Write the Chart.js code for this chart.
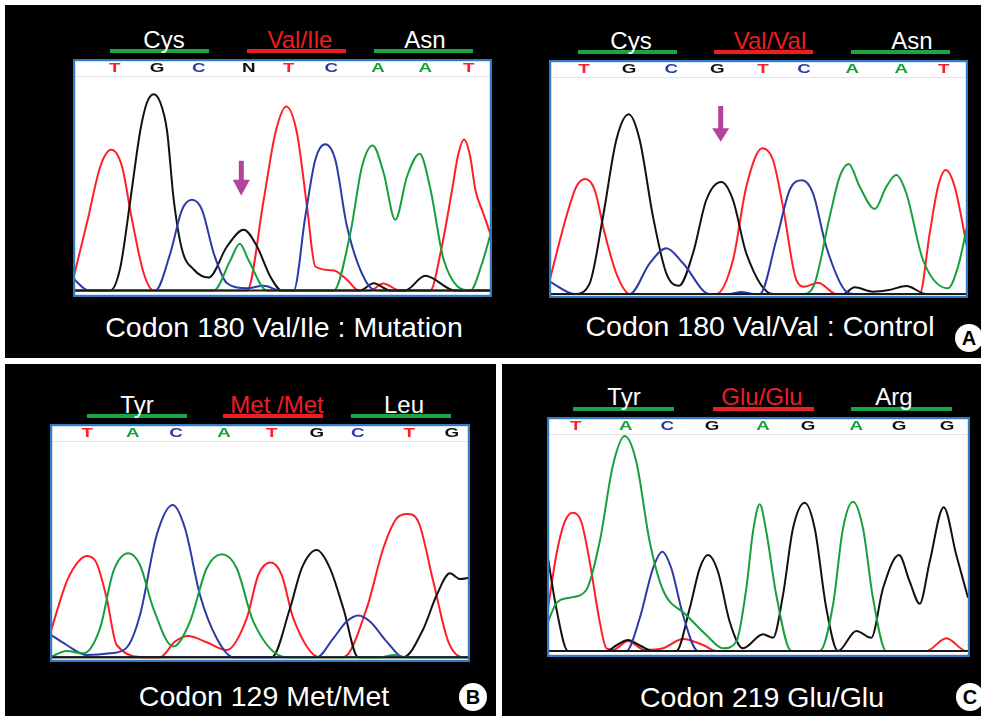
<!DOCTYPE html>
<html>
<head>
<meta charset="utf-8">
<script src="https://cdn.jsdelivr.net/npm/chart.js@4/dist/chart.umd.min.js"></script>
<style>
  body { margin: 0; width: 981px; height: 716px; overflow: hidden; position: relative; background: #fff;
         font-family: "Liberation Sans", Arial, sans-serif; }
  .panel { position: absolute; background: #000; }
  canvas { position: absolute; }
  .aa { position: absolute; font-size: 24px; line-height: 24px; color: #fff; transform: translateX(-50%); white-space: nowrap; }
  .aa.red { color: #ee1d23; }
  .bar { position: absolute; height: 4px; background: #19a447; }
  .bar.red { background: #ee1d23; }
  .cap { position: absolute; font-size: 28.5px; line-height: 28px; color: #fff; transform: translateX(-50%); white-space: nowrap; }
  .badge { position: absolute; width: 28px; height: 28px; border-radius: 50%; background: #fff; color: #000;
           font-weight: bold; font-size: 20px; line-height: 28px; text-align: center; }
</style>
</head>
<body>
<div class="panel" style="left:5px;top:5px;width:976px;height:353px"></div>
<div class="panel" style="left:5px;top:364px;width:491px;height:352px"></div>
<div class="panel" style="left:502px;top:364px;width:479px;height:352px"></div>

<div class="bar" style="left:110px;top:49px;width:99px"></div>
<div class="bar red" style="left:247px;top:49px;width:99px"></div>
<div class="bar" style="left:374px;top:49px;width:99px"></div>
<div class="aa" id="mut0" style="left:164px;top:28px"></div>
<div class="aa red" id="mut1" style="left:300px;top:28px"></div>
<div class="aa" id="mut2" style="left:425px;top:28px"></div>

<div class="bar" style="left:578px;top:50px;width:99px"></div>
<div class="bar red" style="left:714px;top:50px;width:99px"></div>
<div class="bar" style="left:851px;top:50px;width:99px"></div>
<div class="aa" id="ctl0" style="left:631px;top:29px"></div>
<div class="aa red" id="ctl1" style="left:770px;top:29px"></div>
<div class="aa" id="ctl2" style="left:912px;top:29px"></div>

<div class="bar" style="left:87px;top:414px;width:100px"></div>
<div class="bar red" style="left:223px;top:414px;width:100px"></div>
<div class="bar" style="left:351px;top:414px;width:100px"></div>
<div class="aa" id="met0" style="left:137px;top:393px"></div>
<div class="aa red" id="met1" style="left:277px;top:393px"></div>
<div class="aa" id="met2" style="left:404px;top:393px"></div>

<div class="bar" style="left:573px;top:407px;width:101px"></div>
<div class="bar red" style="left:713px;top:407px;width:101px"></div>
<div class="bar" style="left:851px;top:407px;width:101px"></div>
<div class="aa" id="glu0" style="left:624px;top:385px"></div>
<div class="aa red" id="glu1" style="left:762px;top:385px"></div>
<div class="aa" id="glu2" style="left:894px;top:385px"></div>

<canvas id="mutChart" width="419" height="238" style="left:73px;top:59px"></canvas>
<canvas id="ctlChart" width="419" height="238" style="left:549px;top:60px"></canvas>
<canvas id="metChart" width="420" height="238" style="left:50px;top:424px"></canvas>
<canvas id="gluChart" width="423" height="240" style="left:547px;top:417px"></canvas>

<div class="cap" id="capMut" style="left:284px;top:313px"></div>
<div class="cap" id="capCtl" style="left:760px;top:312px"></div>
<div class="cap" id="capMet" style="left:264px;top:682px"></div>
<div class="cap" id="capGlu" style="left:762px;top:683px"></div>
<div class="badge" style="left:955px;top:324px">A</div>
<div class="badge" style="left:459px;top:683px">B</div>
<div class="badge" style="left:956px;top:683px">C</div>

<script>
// codon labels and captions
const mutCodons = ['Cys', 'Val/Ile', 'Asn'];
const ctlCodons = ['Cys', 'Val/Val', 'Asn'];
const metCodons = ['Tyr', 'Met /Met', 'Leu'];
const gluCodons = ['Tyr', 'Glu/Glu', 'Arg'];
const captions = ['Codon 180 Val/Ile : Mutation', 'Codon 180 Val/Val : Control', 'Codon 129 Met/Met', 'Codon 219 Glu/Glu'];

// base calls and their scan positions
const mutBases = ['T', 'G', 'C', 'N', 'T', 'C', 'A', 'A', 'T'];
const mutBasePos = [41.7, 84, 125.7, 175.7, 215.7, 258.3, 305, 352.3, 395.7];
const ctlBases = ['T', 'G', 'C', 'G', 'T', 'C', 'A', 'A', 'T'];
const ctlBasePos = [35, 80, 122.3, 168.3, 214, 255, 303.3, 352.3, 394.7];
const metBases = ['T', 'A', 'C', 'A', 'T', 'G', 'C', 'T', 'G'];
const metBasePos = [37.3, 82.7, 126, 174, 221.7, 266.7, 307.7, 359.3, 401.7];
const gluBases = ['T', 'A', 'C', 'G', 'A', 'G', 'A', 'G', 'G'];
const gluBasePos = [28.7, 78.7, 120.3, 165, 216, 261, 309.3, 352, 400];

// traces: [scan, signal]
const mutA = [[0,0],[140.7,0],[157.3,30],[166.7,46.7],[175.7,30],[194,0],[260.7,0],[277.3,57.3],[289,124],[299.7,145],[310.7,117.3],[322.3,70.7],[334,114],[346.7,136.7],[357.3,102],[370.7,30.7],[397.3,0],[409,27],[418,58]];
const mutC = [[0,12.3],[15.7,0],[82.3,0],[97.3,37.3],[109,80.7],[119,90.7],[129,80.7],[140.7,37.3],[154,7.3],[174,2.3],[190.7,4.7],[207.3,0],[220.7,0],[232.3,74],[242.3,130.7],[252.3,146.3],[262.3,130.7],[274,64],[294,7.3],[307.3,0],[419,0]];
const mutG = [[0,0],[37.3,0],[47.3,23],[57.3,90],[67.3,160],[74,188],[80.7,196.3],[87.3,188],[94,160],[100.7,91],[109,41],[120.7,21],[135.7,13],[154,44],[170.7,60.7],[184,44],[197.3,14],[209,0],[287.3,0],[300.7,7.3],[317.3,0],[332,0],[352.3,14.7],[382,0],[419,0]];
const mutT = [[0,10.7],[14.7,70.7],[27.3,124],[38.3,140.7],[49,124],[59,70.7],[70.7,17.3],[80.7,0],[174,0],[190.7,90.7],[202.3,157.3],[213.3,184],[224,157.3],[234,84],[242.3,24],[260.7,20],[274,10.7],[285.7,0],[297.3,0],[310,7],[327.3,0],[357.3,0],[368,40],[379,100],[385,135],[391,151],[397,135],[402.5,100],[410,78],[418,55]];

const ctlA = [[0,0],[254,0],[265.7,10.7],[280.7,77.3],[290.7,117.3],[299.7,130],[310.7,107.3],[325.7,85],[337.3,107.3],[347.3,119],[357.3,100.7],[374,34],[399,5.7],[409,27.3],[418,67]];
const ctlC = [[0.7,12.3],[25.7,0],[80.7,0],[100.7,30.7],[117.3,45.7],[134,30.7],[160.7,0],[180,0],[192.3,2],[205,0],[210.7,0],[227.3,54],[240.7,104],[253,113.7],[264,100.7],[277.3,47.3],[297.3,2.3],[305,0],[418.3,0]];
const ctlG = [[0,0],[25.7,0],[40.7,10.7],[54,77.3],[67.3,154],[79.7,179.7],[90.7,154],[104,77.3],[117.3,20.7],[130,8.3],[144,40.7],[157.3,94],[172.3,112],[184,94],[197.3,40.7],[224,0],[294,0],[305.7,6.7],[324,2.3],[340,4],[357.3,8],[377.3,0],[418.3,0]];
const ctlT = [[0.7,14],[17.3,77.3],[27.3,107.3],[36.3,115],[45.7,104],[55.7,60.7],[67.3,20.7],[80.7,0],[167.3,0],[184,34],[197.3,107.3],[213.3,145.7],[224,134],[234,87.3],[247.3,14],[255.7,7.3],[269,11.3],[287.3,0],[370.7,0],[380.7,60.7],[389,107.3],[396.7,124],[405.7,107.3],[418,47]];

const metA = [[0,0],[16.7,6.3],[33.3,4],[50,29],[63.3,85.7],[78.3,104],[90,92.3],[103.3,49],[123.3,10.7],[140,35.7],[156.7,89],[172,103],[186.7,89],[203.3,35.7],[236.7,0],[330,0],[343.3,2.3],[356.7,0],[420,0]];
const metC = [[0,23],[16.7,12.3],[36.7,2.3],[60,4],[76.7,9.7],[90,42.3],[106.7,122.3],[122.7,152.3],[135,129],[150,62.3],[166.7,19],[183.3,0],[266.7,0],[283.3,19],[296.7,35.7],[308.3,41.7],[320,35.7],[336.7,15.7],[353.3,0],[420,0]];
const metG = [[0,0],[221.7,0],[240,49],[251.7,89],[266.7,107.3],[280,89],[293.3,49],[308.3,0],[353.3,0],[373.3,28.3],[386.7,62.3],[400,84],[410,78.3],[420,79.7]];
const metT = [[0.7,25.7],[16.7,75.7],[28.3,95.7],[37.3,101.3],[46.7,94],[56.7,59],[66.7,12.3],[96.7,0],[110,0],[125,15.7],[138.3,21.3],[156.7,15],[176.7,7.3],[196.7,39],[208.3,82.3],[220.7,94.7],[231.7,82.3],[243.3,39],[270,0],[293.3,0],[316.7,49],[333.3,109],[346.7,139],[357.3,143.3],[368.3,135.7],[383.3,75.7],[398.3,15.7],[413.3,0],[420,0]];

const gluA = [[1,29.3],[9.3,47.7],[22.7,53.3],[39.3,61],[52.7,109.3],[66,186],[77.7,215],[89.3,189.3],[102.7,109.3],[116,61],[139.3,36],[159.3,16],[176,2.7],[189.3,9.3],[199.3,62.7],[206,119.3],[212.7,146.7],[219.3,119.3],[229.3,56],[244.3,0],[272.7,0],[286,46],[296,122.7],[306,149.3],[316,122.7],[326,52.7],[339.3,0],[422.7,0]];
const gluC = [[0,0],[79.3,0],[92.7,32.7],[106,82.7],[115.3,99.3],[124.3,82.7],[136,36],[151,0],[422.7,0]];
const gluG = [[1,92.7],[9.3,42.7],[21,0],[59.3,0],[70,6],[81,11],[92,6],[106,0],[129.3,0],[142.7,42.7],[152.7,82.7],[161,96],[171,79.3],[182.7,29.3],[196,2.7],[216,16.7],[226,13.3],[236,56],[246,122.7],[257.7,148.3],[267.7,122.7],[279.3,42.7],[291,0],[309.3,20],[324.3,13.3],[336,62.7],[352,96],[362.7,69.3],[372.7,47.3],[382.7,89.3],[396.7,143.7],[409.3,96],[421,53.3]];
const gluT = [[1,42.7],[9.3,96],[17.7,129.3],[26,138.3],[34.3,129.3],[42.7,89.3],[52.7,29.3],[59.3,2.7],[66,1],[81,10],[97.7,1],[116,2.7],[136,12],[156,6],[169.3,0],[379.3,0],[399.3,12.7],[419.3,0],[422.7,0]];

const baseColor = { A: '#16a03c', C: '#2c3aa8', G: '#111111', T: '#ff1e28', N: '#111111' };

function fillLabels(prefix, names) {
    names.forEach((n, i) => { document.getElementById(prefix + i).textContent = n; });
}
fillLabels('mut', mutCodons);
fillLabels('ctl', ctlCodons);
fillLabels('met', metCodons);
fillLabels('glu', gluCodons);
['capMut', 'capCtl', 'capMet', 'capGlu'].forEach((id, i) => { document.getElementById(id).textContent = captions[i]; });

function traceChart(id, traces, bases, basePos, xMax, yMin, yMax, arrow) {
    const ctx = document.getElementById(id).getContext('2d');
    const datasets = ['A', 'C', 'G', 'T'].map(b => ({
        label: b,
        data: traces[b].map(p => ({ x: p[0], y: p[1] })),
        borderColor: baseColor[b],
        borderWidth: 2,
        pointRadius: 0,
        fill: false,
        cubicInterpolationMode: 'monotone'
    }));

    // white sheet, base calls, baseline, frame and arrow
    const sheet = {
        id: 'sheet',
        beforeDatasetsDraw(chart) {
            const { ctx, chartArea: a, scales: { x } } = chart;
            ctx.save();
            ctx.fillStyle = '#fff';
            ctx.fillRect(a.left, a.top, a.width, a.height);
            ctx.strokeStyle = '#e4e4e4';
            ctx.lineWidth = 1;
            ctx.beginPath();
            ctx.moveTo(a.left, a.top + 17.5);
            ctx.lineTo(a.right, a.top + 17.5);
            ctx.stroke();
            ctx.font = 'bold 12.5px "Liberation Sans", Arial, sans-serif';
            ctx.textAlign = 'center';
            ctx.textBaseline = 'middle';
            bases.forEach((b, i) => {
                ctx.save();
                ctx.translate(x.getPixelForValue(basePos[i]), a.top + 9.5);
                ctx.scale(1.5, 1);
                ctx.fillStyle = baseColor[b];
                ctx.fillText(b, 0, 0);
                ctx.restore();
            });
            ctx.restore();
        },
        afterDatasetsDraw(chart) {
            const { ctx, chartArea: a, scales: { x, y } } = chart;
            ctx.save();
            const y0 = y.getPixelForValue(0);
            ctx.strokeStyle = '#1a1a1a';
            ctx.lineWidth = 2;
            ctx.beginPath();
            ctx.moveTo(a.left, y0);
            ctx.lineTo(a.right, y0);
            ctx.stroke();
            ctx.strokeStyle = '#2f7bc6';
            ctx.lineWidth = 2.2;
            ctx.strokeRect(a.left + 1.1, a.top + 1.1, a.width - 2.2, a.height - 2.2);
            if (arrow) {
                const ax = x.getPixelForValue(arrow[0]);
                const top = y.getPixelForValue(arrow[1]);
                const neck = y.getPixelForValue(arrow[2]);
                const tip = y.getPixelForValue(arrow[3]);
                ctx.fillStyle = '#b2449e';
                ctx.fillRect(ax - 2.5, top, 5, neck - top + 1);
                ctx.beginPath();
                ctx.moveTo(ax - 8.5, neck);
                ctx.lineTo(ax + 8.5, neck);
                ctx.lineTo(ax, tip);
                ctx.closePath();
                ctx.fill();
            }
            ctx.restore();
        }
    };

    return new Chart(ctx, {
        type: 'line',
        data: { datasets },
        options: {
            responsive: false,
            animation: false,
            devicePixelRatio: 1,
            layout: { padding: 0 },
            plugins: { legend: { display: false }, tooltip: { enabled: false } },
            scales: {
                x: { type: 'linear', min: 0, max: xMax, display: false },
                y: { min: yMin, max: yMax, display: false }
            }
        },
        plugins: [sheet]
    });
}

traceChart('mutChart', { A: mutA, C: mutC, G: mutG, T: mutT }, mutBases, mutBasePos, 419, -6.5, 231.5, [168.3, 129.7, 110.7, 94.7]);
traceChart('ctlChart', { A: ctlA, C: ctlC, G: ctlG, T: ctlT }, ctlBases, ctlBasePos, 419, -4, 234, [171.7, 188, 165.7, 152.3]);
traceChart('metChart', { A: metA, C: metC, G: metG, T: metT }, metBases, metBasePos, 420, -4.7, 233.3, null);
traceChart('gluChart', { A: gluA, C: gluC, G: gluG, T: gluT }, gluBases, gluBasePos, 423, -6, 234, null);
</script>
</body>
</html>
